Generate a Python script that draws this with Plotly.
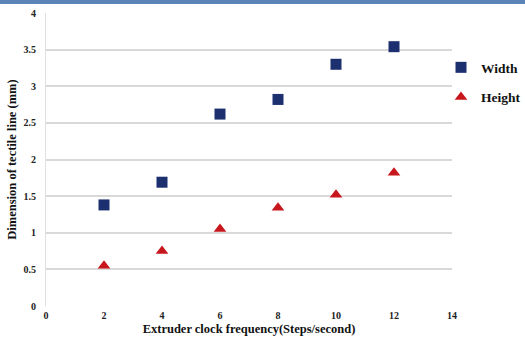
import plotly.graph_objects as go

freq = [2, 4, 6, 8, 10, 12]
width = [1.38, 1.69, 2.62, 2.82, 3.30, 3.54]
height = [0.55, 0.75, 1.05, 1.34, 1.52, 1.82]
x_ticks = [0, 2, 4, 6, 8, 10, 12, 14]
y_ticks = [0, 0.5, 1, 1.5, 2, 2.5, 3, 3.5, 4]

serif = "Liberation Serif, Times New Roman, serif"

fig = go.Figure()
fig.add_trace(go.Scatter(x=freq, y=width, mode="markers", name="Width",
                         legendgroup="w",
                         marker=dict(symbol="square", size=11, color="#1c2f6e")))
fig.add_trace(go.Scatter(x=freq, y=height, mode="markers", name="Height",
                         legendgroup="h",
                         marker=dict(symbol="triangle-up", size=11, color="#c8161d")))

fig.update_layout(
    width=525, height=347,
    margin=dict(l=46, r=73, t=13, b=41, autoexpand=False),
    paper_bgcolor="white", plot_bgcolor="white",
    font=dict(family=serif, color="#222", size=10),
    showlegend=True,
    legend=dict(xref="container", yref="container", x=0.84, y=0.85,
                xanchor="left", yanchor="top",
                font=dict(family=serif, size=13.5, color="#111", weight="bold"),
                tracegroupgap=9, bgcolor="rgba(0,0,0,0)"),
    xaxis=dict(range=[0, 14], tickvals=x_ticks, showgrid=False, zeroline=False,
               showline=False, ticks="", automargin=False, ticklabelstandoff=2,
               tickfont=dict(family=serif, size=10, weight="bold"),
               title=dict(text="Extruder clock frequency(Steps/second)",
                          font=dict(family=serif, size=12.5, weight="bold", color="#111"),
                          standoff=4)),
    yaxis=dict(range=[0, 4], tickvals=y_ticks, ticktext=[str(v) for v in y_ticks],
               showgrid=True, gridcolor="#d9d9d9", gridwidth=1.5,
               zeroline=False, showline=True, linecolor="#e0e0e0", ticks="",
               automargin=False, ticklabelstandoff=7,
               tickfont=dict(family=serif, size=10, weight="bold"),
               title=dict(text="Dimension of tectile line (mm)",
                          font=dict(family=serif, size=12.5, weight="bold", color="#111"),
                          standoff=4)),
    shapes=[dict(type="rect", xref="paper", yref="paper",
                 x0=-0.2, x1=1.3, y0=1.031, y1=1.06,
                 line=dict(width=0), fillcolor="#5b84b8", layer="above")],
)

fig.write_html("out.html", config={"displayModeBar": False},
               post_script="document.body.style.margin='0';")
